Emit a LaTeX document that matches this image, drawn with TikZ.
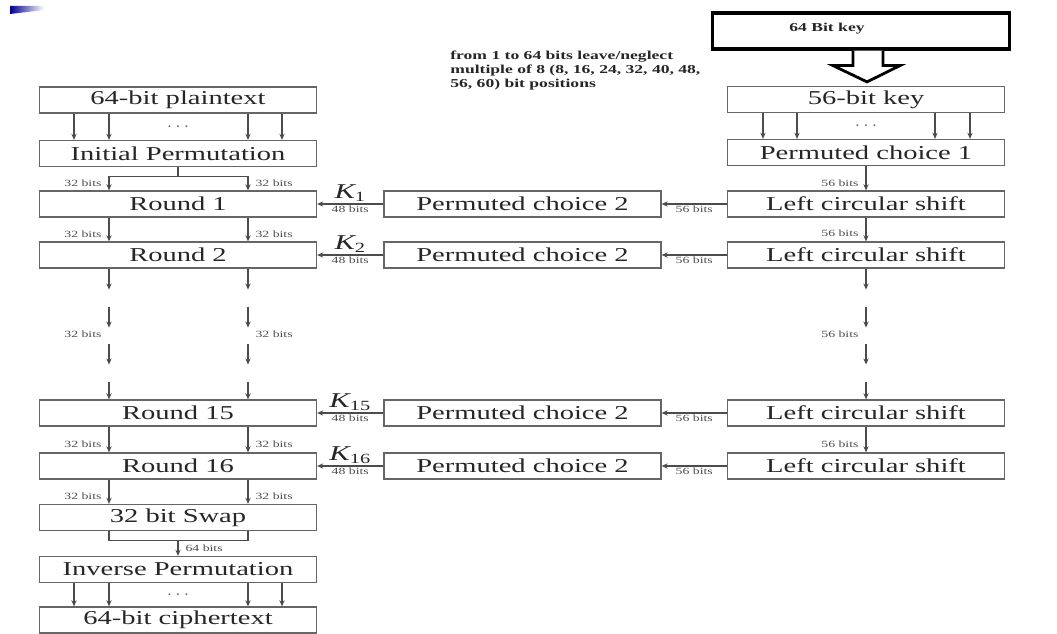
\documentclass[tikz,border=0pt]{standalone}
\usepackage{fontspec}
\setmainfont{Liberation Serif}[FakeStretch=1.45]
\usetikzlibrary{arrows.meta,calc}

\tikzset{
  box/.style={draw=black!60, line width=0.7pt, minimum width=5.54cm, minimum height=0.52cm, inner sep=0pt, text=black!85, font=\fontsize{11.2}{13}\selectfont},
  keybox/.style={draw=black, line width=1.8pt, minimum width=5.95cm, minimum height=0.72cm},
  lbl/.style={font=\fontsize{5.4}{6}\selectfont, text=black!70, inner sep=1pt},
  kay/.style={font=\fontsize{12}{14}\selectfont\itshape, text=black!85, inner sep=1pt},
  ellip/.style={text=black!55, font=\fontsize{11}{11}\selectfont},
  note/.style={font=\fontsize{6.9}{7.9}\selectfont\bfseries, text=black!85, inner sep=0pt, align=left},
  conn/.style={draw=black!70, line width=0.6pt},
}

\begin{document}
\begin{tikzpicture}[x=0.02cm, y=-0.02cm, >={Stealth[length=3.5pt,width=3pt]}]
\useasboundingbox (0,0) rectangle (1057,634);
\shade[left color=blue!55!black, right color=white] (10,6) -- (44,6) -- (44,10) -- (10,14) -- cycle;

% key side
\node[keybox] (key) at (861,31) {};
\node[note] (keytxt) at (827,29) {64 Bit key};
\node[note, anchor=north west] (note) at (450,51) {from 1 to 64 bits leave/neglect\\multiple of 8 (8, 16, 24, 32, 40, 48,\\56, 60) bit positions};
\node[box] (k56) at (866,99.5) {56-bit key};
\node[box] (pcone) at (866,152.5) {Permuted choice 1};
\draw[line width=1.6pt, line join=miter, fill=white] ($(key.south)+(-8,0)$) -- ++(0,15) -- ++(-20,0) -- ($(k56.north)+(1,-4)$) -- ($(key.south)+(39,15)$) -- ++(-17,0) -- ++(0,-15);

\node[box] (lcs1) at (866,204) {Left circular shift};
\node[box] (lcs2) at (866,255) {Left circular shift};
\node[box] (lcs15) at (866,413) {Left circular shift};
\node[box] (lcs16) at (866,466) {Left circular shift};

\node[box] (pcb1) at (522.5,204) {Permuted choice 2};
\node[box] (pcb2) at (522.5,255) {Permuted choice 2};
\node[box] (pcb15) at (522.5,413) {Permuted choice 2};
\node[box] (pcb16) at (522.5,466) {Permuted choice 2};

% data side
\node[box] (pt) at (178,100) {64-bit plaintext};
\node[box] (ip) at (178,153.5) {Initial Permutation};
\node[box] (r1) at (178,204) {Round 1};
\node[box] (r2) at (178,255) {Round 2};
\node[box] (r15) at (178,413) {Round 15};
\node[box] (r16) at (178,466) {Round 16};
\node[box] (swap) at (178,517.5) {32 bit Swap};
\node[box] (invp) at (178,569.5) {Inverse Permutation};
\node[box] (ct) at (178,620) {64-bit ciphertext};

% plaintext to IP
\draw[conn,->] ($(pt.south)+(-104,0)$) -- ($(ip.north)+(-104,0)$);
\draw[conn,->] ($(pt.south)+(-69,0)$) -- ($(ip.north)+(-69,0)$);
\draw[conn,->] ($(pt.south)+(70,0)$) -- ($(ip.north)+(70,0)$);
\draw[conn,->] ($(pt.south)+(104,0)$) -- ($(ip.north)+(104,0)$);
\node[ellip] (dt1) at ($(pt.south)!0.5!(ip.north)$) {$\cdots$};

% IP to round 1
\draw[conn] (ip.south) -- ++(0,9) coordinate (split);
\draw[conn] ($(split)+(-69,0)$) -- ($(split)+(70,0)$);
\draw[conn,->] ($(split)+(-69,0)$) -- ($(r1.north)+(-69,0)$) node[lbl,left=3pt,pos=0.5] (a1) {32 bits};
\draw[conn,->] ($(split)+(70,0)$) -- ($(r1.north)+(70,0)$) node[lbl,right=3pt,pos=0.5] (b1) {32 bits};

\draw[conn,->] ($(r1.south)+(-69,0)$) -- ($(r2.north)+(-69,0)$) node[lbl,left=3pt,pos=0.68] (a2) {32 bits};
\draw[conn,->] ($(r1.south)+(70,0)$) -- ($(r2.north)+(70,0)$) node[lbl,right=3pt,pos=0.68] (b2) {32 bits};

% round 2 ... round 15
\draw[conn,->] ($(r2.south)+(-69,0)$) -- ++(0,21);
\draw[conn,->] ($(r2.south)+(-69,38)$) -- ++(0,21) node[lbl,left=3pt,pos=1.3] (a3) {32 bits};
\draw[conn,->] ($(r2.south)+(-69,75)$) -- ++(0,21);
\draw[conn,->] ($(r2.south)+(-69,113)$) -- ($(r15.north)+(-69,0)$);
\draw[conn,->] ($(r2.south)+(70,0)$) -- ++(0,21);
\draw[conn,->] ($(r2.south)+(70,38)$) -- ++(0,21) node[lbl,right=3pt,pos=1.3] (b3) {32 bits};
\draw[conn,->] ($(r2.south)+(70,75)$) -- ++(0,21);
\draw[conn,->] ($(r2.south)+(70,113)$) -- ($(r15.north)+(70,0)$);

\draw[conn,->] ($(r15.south)+(-69,0)$) -- ($(r16.north)+(-69,0)$) node[lbl,left=3pt,pos=0.67] (a4) {32 bits};
\draw[conn,->] ($(r15.south)+(70,0)$) -- ($(r16.north)+(70,0)$) node[lbl,right=3pt,pos=0.67] (b4) {32 bits};
\draw[conn,->] ($(r16.south)+(-69,0)$) -- ($(swap.north)+(-69,0)$) node[lbl,left=3pt,pos=0.68] (a5) {32 bits};
\draw[conn,->] ($(r16.south)+(70,0)$) -- ($(swap.north)+(70,0)$) node[lbl,right=3pt,pos=0.68] (b5) {32 bits};

% swap to ciphertext
\draw[conn] ($(swap.south)+(-69,0)$) -- ++(0,9) -- ($(swap.south)+(70,9)$) -- ($(swap.south)+(70,0)$);
\draw[conn,->] ($(swap.south)+(0,9)$) -- (invp.north) node[lbl,right=3pt,pos=0.5] (c1) {64 bits};
\draw[conn,->] ($(invp.south)+(-104,0)$) -- ($(ct.north)+(-104,0)$);
\draw[conn,->] ($(invp.south)+(-69,0)$) -- ($(ct.north)+(-69,0)$);
\draw[conn,->] ($(invp.south)+(70,0)$) -- ($(ct.north)+(70,0)$);
\draw[conn,->] ($(invp.south)+(104,0)$) -- ($(ct.north)+(104,0)$);
\node[ellip] (dt2) at ($(invp.south)!0.5!(ct.north)$) {$\cdots$};

% subkeys
\draw[conn,->] (pcb1.west) -- (r1.east) node[kay,above,midway] (k1) {K\textsubscript{\upshape 1}} node[lbl,below,midway] (w1) {48 bits};
\draw[conn,->] (pcb2.west) -- (r2.east) node[kay,above,midway] (k2) {K\textsubscript{\upshape 2}} node[lbl,below,midway] (w2) {48 bits};
\draw[conn,->] (pcb15.west) -- (r15.east) node[kay,above,midway] (k15) {K\textsubscript{\upshape 15}} node[lbl,below,midway] (w15) {48 bits};
\draw[conn,->] (pcb16.west) -- (r16.east) node[kay,above,midway] (k16) {K\textsubscript{\upshape 16}} node[lbl,below,midway] (w16) {48 bits};

\draw[conn,->] (lcs1.west) -- (pcb1.east) node[lbl,below,midway] (s1) {56 bits};
\draw[conn,->] (lcs2.west) -- (pcb2.east) node[lbl,below,midway] (s2) {56 bits};
\draw[conn,->] (lcs15.west) -- (pcb15.east) node[lbl,below,midway] (s15) {56 bits};
\draw[conn,->] (lcs16.west) -- (pcb16.east) node[lbl,below,midway] (s16) {56 bits};

% key schedule
\draw[conn,->] ($(k56.south)+(-103,0)$) -- ($(pcone.north)+(-103,0)$);
\draw[conn,->] ($(k56.south)+(-69,0)$) -- ($(pcone.north)+(-69,0)$);
\draw[conn,->] ($(k56.south)+(69,0)$) -- ($(pcone.north)+(69,0)$);
\draw[conn,->] ($(k56.south)+(104,0)$) -- ($(pcone.north)+(104,0)$);
\node[ellip] (dt3) at ($(k56.south)!0.5!(pcone.north)$) {$\cdots$};

\draw[conn,->] (pcone.south) -- (lcs1.north) node[lbl,left=3pt,pos=0.69] (m1) {56 bits};
\draw[conn,->] (lcs1.south) -- (lcs2.north) node[lbl,left=3pt,pos=0.64] (m2) {56 bits};
\draw[conn,->] (lcs2.south) -- ++(0,21);
\draw[conn,->] ($(lcs2.south)+(0,38)$) -- ++(0,21) node[lbl,left=3pt,pos=1.3] (m3) {56 bits};
\draw[conn,->] ($(lcs2.south)+(0,75)$) -- ++(0,21);
\draw[conn,->] ($(lcs2.south)+(0,113)$) -- (lcs15.north);
\draw[conn,->] (lcs15.south) -- (lcs16.north) node[lbl,left=3pt,pos=0.67] (m4) {56 bits};

\end{tikzpicture}
\end{document}
